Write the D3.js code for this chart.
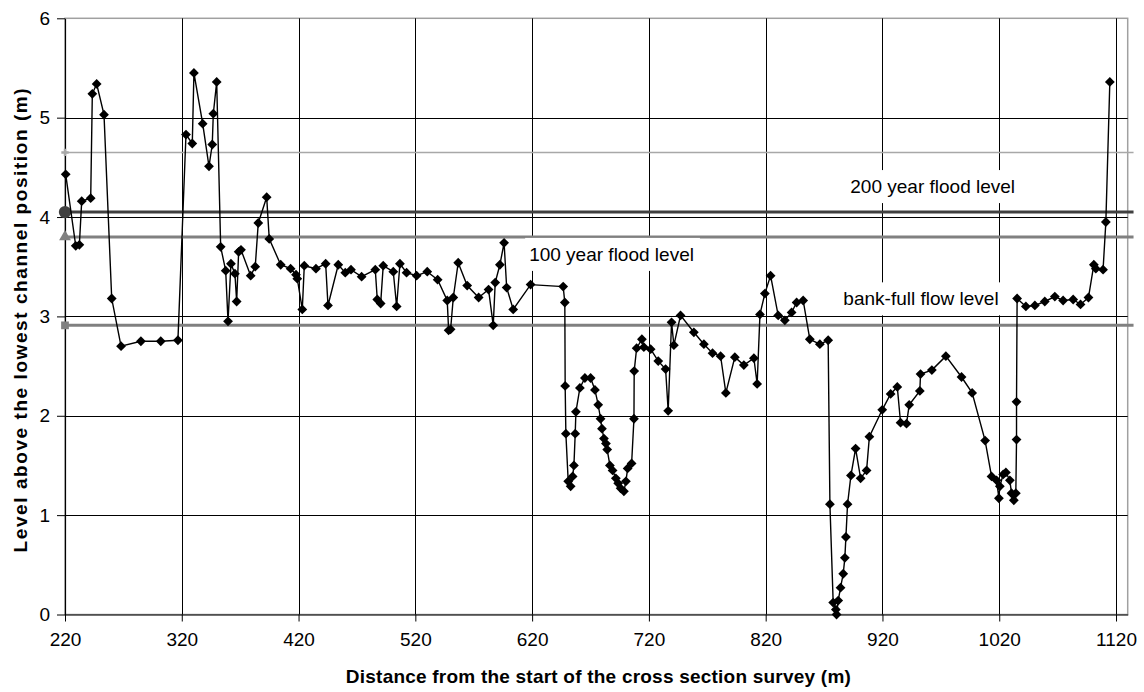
<!DOCTYPE html>
<html>
<head>
<meta charset="utf-8">
<script src="https://cdn.jsdelivr.net/npm/d3@7"></script>
<style>
  body { margin: 0; background: #fff; }
  text { font-family: "Liberation Sans", Arial, sans-serif; }
</style>
</head>
<body>
<div id="chart"></div>
<script>
// surveyed points: distance along the cross section (m)
var distance = [
  220.6, 229.2, 232.3, 234.3, 242.0, 243.4, 247.1, 253.4, 260.0, 268.0,
  285.0, 302.0, 316.7, 323.6, 329.0, 330.4, 337.9, 343.3, 346.1, 347.0,
  349.9, 353.3, 357.6, 359.6, 362.1, 365.5, 367.0, 368.7, 370.7, 379.0,
  382.9, 385.5, 392.7, 394.9, 404.7, 413.2, 417.8, 418.9, 423.2, 424.9,
  434.9, 443.2, 445.2, 454.0, 460.0, 464.9, 474.0, 485.7, 487.4, 490.3,
  492.5, 501.1, 504.0, 506.8, 512.5, 521.1, 530.2, 539.1, 547.3, 548.5,
  550.2, 552.5, 556.7, 564.4, 574.2, 582.7, 586.7, 588.4, 592.4, 596.0,
  598.2, 603.8, 618.7, 646.6, 648.0, 648.3, 648.9, 650.9, 653.0, 654.7,
  655.8, 656.9, 657.5, 660.9, 665.2, 670.1, 673.8, 676.6, 678.6, 679.8,
  681.5, 683.2, 684.3, 686.6, 688.9, 691.7, 693.7, 695.8, 698.6, 700.3,
  701.8, 705.2, 707.2, 707.4, 709.5, 714.0, 715.7, 721.5, 728.0, 734.3,
  736.5, 739.4, 741.4, 747.1, 758.5, 767.1, 774.5, 781.4, 785.9, 793.6,
  801.3, 809.9, 812.7, 815.1, 819.3, 824.2, 830.7, 836.4, 842.2, 846.5,
  852.1, 857.8, 866.4, 873.5, 875.0, 877.8, 880.1, 880.7, 882.1, 884.1,
  886.4, 887.8, 888.7, 890.1, 893.0, 897.0, 901.3, 906.4, 908.8, 919.8,
  927.0, 932.7, 935.5, 940.6, 942.9, 952.0, 952.6, 962.3, 974.3, 987.7,
  996.8, 1007.9, 1013.4, 1017.7, 1019.7, 1020.5, 1023.4, 1025.7, 1029.1, 1030.5,
  1032.5, 1034.2, 1034.8, 1034.8, 1035.3, 1042.8, 1050.5, 1059.0, 1067.6, 1074.7,
  1083.3, 1089.6, 1096.4, 1101.0, 1102.7, 1108.9, 1111.3, 1114.7
];
// level above the lowest channel position (m)
var level = [
  4.43, 3.71, 3.72, 4.16, 4.19, 5.24, 5.34, 5.03, 3.18, 2.70,
  2.75, 2.75, 2.76, 4.83, 4.74, 5.45, 4.94, 4.51, 4.73, 5.04,
  5.36, 3.70, 3.46, 2.95, 3.53, 3.43, 3.15, 3.65, 3.67, 3.41,
  3.50, 3.94, 4.20, 3.78, 3.52, 3.48, 3.42, 3.38, 3.07, 3.51,
  3.48, 3.53, 3.11, 3.52, 3.44, 3.47, 3.40, 3.47, 3.17, 3.13,
  3.51, 3.45, 3.10, 3.53, 3.44, 3.41, 3.45, 3.37, 3.16, 2.86,
  2.87, 3.19, 3.54, 3.31, 3.19, 3.27, 2.91, 3.34, 3.52, 3.74,
  3.29, 3.07, 3.32, 3.30, 3.14, 2.30, 1.82, 1.34, 1.29, 1.39,
  1.50, 1.82, 2.04, 2.28, 2.38, 2.38, 2.26, 2.11, 1.97, 1.87,
  1.77, 1.72, 1.66, 1.50, 1.45, 1.37, 1.32, 1.27, 1.24, 1.34,
  1.47, 1.52, 1.97, 2.45, 2.68, 2.77, 2.69, 2.67, 2.55, 2.47,
  2.05, 2.94, 2.71, 3.01, 2.84, 2.72, 2.63, 2.60, 2.23, 2.59,
  2.51, 2.58, 2.32, 3.02, 3.23, 3.41, 3.01, 2.96, 3.04, 3.14,
  3.16, 2.77, 2.72, 2.76, 1.11, 0.12, 0.05, 0.00, 0.14, 0.27,
  0.41, 0.57, 0.78, 1.11, 1.40, 1.67, 1.37, 1.45, 1.79, 2.06,
  2.22, 2.29, 1.93, 1.92, 2.11, 2.25, 2.42, 2.46, 2.60, 2.39,
  2.23, 1.75, 1.39, 1.35, 1.17, 1.29, 1.41, 1.43, 1.35, 1.22,
  1.15, 1.22, 1.76, 2.14, 3.18, 3.10, 3.11, 3.15, 3.20, 3.16,
  3.17, 3.12, 3.19, 3.52, 3.48, 3.47, 3.95, 5.36
];

// reference levels, drawn as flat lines across the section
var refNames = ["", "200 year flood level", "100 year flood level", "bank-full flow level"];
var refLevels = [4.65, 4.05, 3.80, 2.91];
var refFrom = 220, refTo = 1135;

var xTicks = [220, 320, 420, 520, 620, 720, 820, 920, 1020, 1120];
var yTicks = [0, 1, 2, 3, 4, 5, 6];

var width = 1144, height = 692;
var plot = {left: 65, right: 1127.7, top: 18.3, bottom: 614.5};

var svg = d3.select("#chart").append("svg")
  .attr("width", width)
  .attr("height", height);

var x = d3.scaleLinear().domain([220, 1130]).range([plot.left, plot.right]);
var y = d3.scaleLinear().domain([0, 6]).range([plot.bottom, plot.top]);

// plot area border (grey)
svg.append("rect")
  .attr("x", plot.left).attr("y", plot.top)
  .attr("width", plot.right - plot.left).attr("height", plot.bottom - plot.top)
  .attr("fill", "none").attr("stroke", "#a0a0a0").attr("stroke-width", 1.5);

// gridlines
svg.append("g").selectAll("line")
  .data(yTicks.filter(function(d) { return d > 0 && d < 6; }))
  .enter().append("line")
    .attr("x1", plot.left).attr("x2", plot.right)
    .attr("y1", function(d) { return Math.round(y(d)) + 0.5; })
    .attr("y2", function(d) { return Math.round(y(d)) + 0.5; })
    .attr("stroke", "#000").attr("stroke-width", 1);

svg.append("g").selectAll("line")
  .data(xTicks.slice(1))
  .enter().append("line")
    .attr("x1", function(d) { return Math.round(x(d)) + 0.5; })
    .attr("x2", function(d) { return Math.round(x(d)) + 0.5; })
    .attr("y1", plot.top).attr("y2", plot.bottom)
    .attr("stroke", "#000").attr("stroke-width", 1);

// axes
var fmt = d3.format("d");
var xAxis = svg.append("g")
  .attr("transform", "translate(0," + plot.bottom + ")")
  .call(d3.axisBottom(x).tickValues(xTicks).tickFormat(fmt)
    .tickSize(7).tickPadding(11).tickSizeOuter(0));
var yAxis = svg.append("g")
  .attr("transform", "translate(" + plot.left + ",0)")
  .call(d3.axisLeft(y).tickValues(yTicks).tickFormat(fmt)
    .tickSize(8).tickPadding(7).tickSizeOuter(0));

[xAxis, yAxis].forEach(function(a) {
  a.select(".domain").attr("stroke", "#000").attr("stroke-width", 1.2);
  a.selectAll(".tick line").attr("stroke", "#000");
  a.selectAll(".tick text")
    .style("font-family", "'Liberation Sans', Arial, sans-serif")
    .style("font-size", "19px").attr("fill", "#000");
});

// reference level lines, styles per line
var refColor = ["#a8a8a8", "#404040", "#808080", "#808080"];
var refWidth = [1.5, 3, 3, 3];
var refSymbol = [d3.symbolCross, d3.symbolCircle, d3.symbolTriangle, d3.symbolSquare];
var refSymbolSize = [30, 120, 60, 60];

var refs = refLevels.map(function(v, i) { return {name: refNames[i], value: v, i: i}; });

svg.append("g").selectAll("line")
  .data(refs)
  .enter().append("line")
    .attr("x1", function(d) { return x(refFrom); })
    .attr("x2", function(d) { return x(refTo); })
    .attr("y1", function(d) { return y(d.value); })
    .attr("y2", function(d) { return y(d.value); })
    .attr("stroke", function(d) { return refColor[d.i]; })
    .attr("stroke-width", function(d) { return refWidth[d.i]; });

svg.append("g").selectAll("path")
  .data(refs)
  .enter().append("path")
    .attr("transform", function(d) { return "translate(" + x(refFrom) + "," + y(d.value) + ")"; })
    .attr("d", function(d) { return d3.symbol().type(refSymbol[d.i]).size(refSymbolSize[d.i])(); })
    .attr("fill", function(d) { return refColor[d.i]; });

// labels with white boxes, placed by distance (m) and offset from the line (px)
var labelAt = [null, {m: 963, dy: -19}, {m: 688, dy: 24}, {m: 953, dy: -20}];
refs.forEach(function(d) {
  var p = labelAt[d.i];
  if (!p) return;
  var g = svg.append("g");
  var box = g.append("rect").attr("fill", "#fff");
  var t = g.append("text")
    .attr("x", x(p.m))
    .attr("y", y(d.value) + p.dy)
    .attr("text-anchor", "middle")
    .style("font-size", "19px")
    .text(d.name);
  var b = t.node().getBBox();
  box.attr("x", b.x - 4).attr("y", b.y - 6)
    .attr("width", b.width + 10).attr("height", b.height + 12);
});

// survey profile
var points = distance.map(function(d, i) { return [d, level[i]]; });

svg.append("path")
  .datum(points)
  .attr("fill", "none")
  .attr("stroke", "#000")
  .attr("stroke-width", 1.4)
  .attr("d", d3.line()
    .x(function(d) { return x(d[0]); })
    .y(function(d) { return y(d[1]); }));

svg.append("g").selectAll("path")
  .data(points)
  .enter().append("path")
    .attr("transform", function(d) { return "translate(" + x(d[0]) + "," + y(d[1]) + ") rotate(45)"; })
    .attr("d", d3.symbol().type(d3.symbolSquare).size(48)())
    .attr("fill", "#000");

// axis titles
svg.append("text")
  .attr("x", (plot.left + plot.right) / 2 + 2)
  .attr("y", 683)
  .attr("text-anchor", "middle")
  .attr("textLength", 505)
  .attr("lengthAdjust", "spacing")
  .style("font-size", "19px")
  .style("font-weight", "bold")
  .text("Distance from the start of the cross section survey (m)");

svg.append("text")
  .attr("transform", "translate(27," + ((plot.top + plot.bottom) / 2 + 4) + ") rotate(-90)")
  .attr("text-anchor", "middle")
  .attr("textLength", 464)
  .attr("lengthAdjust", "spacing")
  .style("font-size", "19px")
  .style("font-weight", "bold")
  .text("Level above the lowest channel position (m)");
</script>
</body>
</html>
